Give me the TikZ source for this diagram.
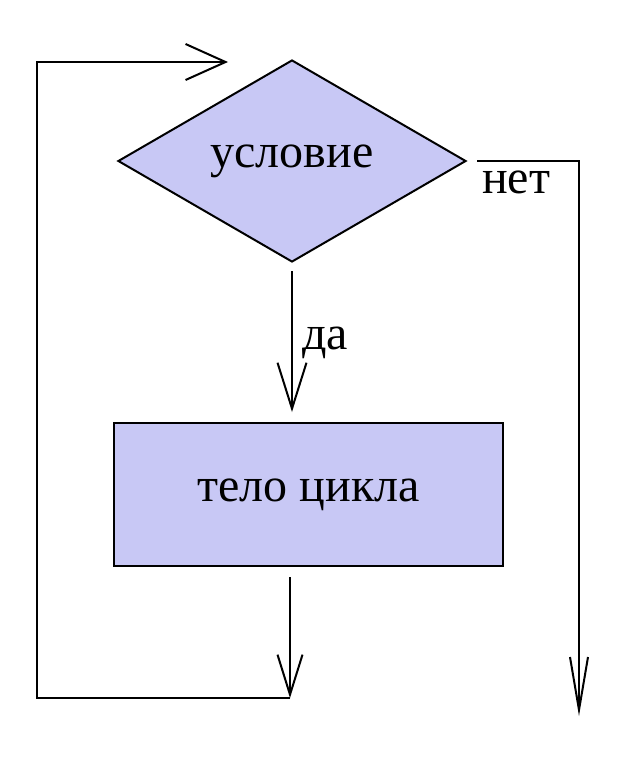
\documentclass[tikz,border=0pt]{standalone}
\usepackage{fontspec}
\setmainfont{Liberation Serif}
\usetikzlibrary{shapes.geometric,arrows.meta}
\definecolor{boxfill}{RGB}{200,200,245}
\begin{document}
\begin{tikzpicture}[
    x=1pt, y=-1pt,
    blk/.style={
        draw=black,
        line width=2pt,
        fill=boxfill,
        inner sep=0pt,
        font=\fontsize{48}{50}\selectfont
    },
    lbl/.style={
        font=\fontsize{48}{50}\selectfont
    },
    line/.style={
        line width=2pt
    },
    vtip/.style 2 args={
        -{Straight Barb[length=#1,width=#2,line width=2pt]}
    }
]
    \useasboundingbox (0,0) rectangle (640,764);

    % условие и тело цикла
    \node[blk, diamond, aspect=1.72, minimum width=348pt, minimum height=202pt] (cond) at (292,161) {условие};
    \node[blk, rectangle, minimum width=389pt, minimum height=143pt] (body) at (308.5,494.5) {тело цикла};

    % точки для линий
    \coordinate (join) at (290,698);
    \coordinate (corner) at (37,698);
    \coordinate (back) at (228,62);
    \coordinate (exit) at (579,716);

    % да
    \draw[line, vtip={46pt}{29pt}, shorten <=8pt, shorten >=10pt] (cond.south) -- (cond.south |- body.north);
    \node[lbl] (yes) at (325,343) {да};

    % возврат к условию
    \draw[line, vtip={40pt}{25pt}, shorten <=10pt] (join |- body.south) -- (join);
    \draw[line, vtip={40pt}{36pt}] (join) -- (corner) |- (back);

    % нет
    \draw[line, vtip={53pt}{18pt}, shorten <=10pt] (cond.east) -| (exit);
    \node[lbl] (no) at (516,182) {нет};

\end{tikzpicture}
\end{document}
